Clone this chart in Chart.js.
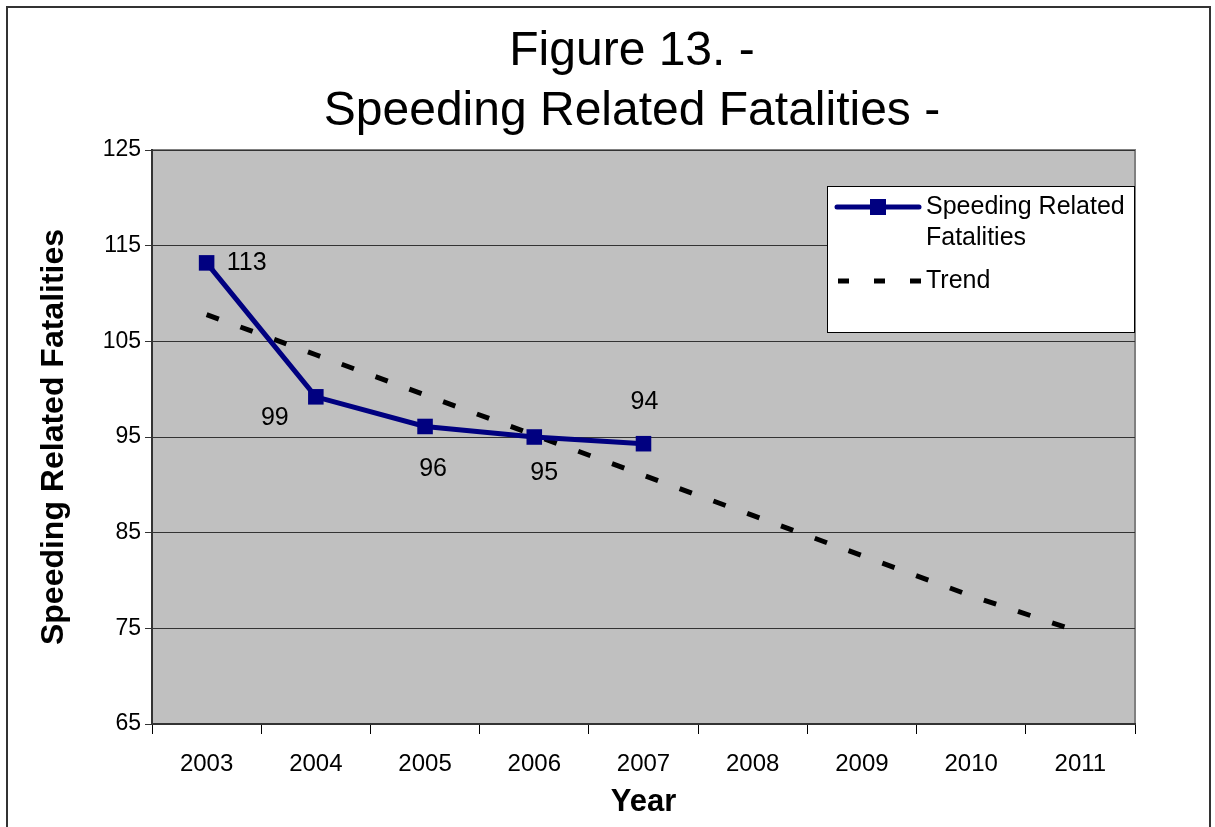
<!DOCTYPE html>
<html>
<head>
<meta charset="utf-8">
<script src="https://cdn.jsdelivr.net/npm/chart.js@4.4.1/dist/chart.umd.min.js"></script>
<style>
  html, body { margin: 0; padding: 0; background: #fff; }
  #wrap { position: relative; width: 1215px; height: 827px; }
  #frame { position: absolute; left: 6px; top: 6px; width: 1205px; height: 840px; border: 2px solid #333; box-sizing: border-box; pointer-events: none; }
  canvas { position: absolute; left: 0; top: 0; }
</style>
</head>
<body>
<div id="wrap">
  <canvas id="c" width="1215" height="827"></canvas>
  <div id="frame"></div>
</div>
<script>
const years = ['2003', '2004', '2005', '2006', '2007', '2008', '2009', '2010', '2011'];
const fatalities = [113.2, 99.2, 96.1, 95.0, 94.3, null, null, null, null];
const fatalityLabels = ['113', '99', '96', '95', '94'];
const trend = [107.8, 103.6, 99.4, 95.2, 91.0, 86.8, 82.6, 78.4, 74.6];
const yTicks = [65, 75, 85, 95, 105, 115, 125];
const titleLines = ['Figure 13. -', 'Speeding Related Fatalities -'];

const FONT = '"Liberation Sans", Arial, sans-serif';

const bgPlugin = {
  id: 'plotBg',
  beforeDraw(chart) {
    const { ctx, chartArea: a } = chart;
    ctx.save();
    ctx.fillStyle = '#C0C0C0';
    ctx.fillRect(a.left, a.top, a.right - a.left, a.bottom - a.top);
    ctx.strokeStyle = '#808080';
    ctx.lineWidth = 2;
    ctx.beginPath();
    ctx.moveTo(a.left, a.top);
    ctx.lineTo(a.right, a.top);
    ctx.lineTo(a.right, a.bottom);
    ctx.stroke();
    ctx.restore();
  }
};

const titlePlugin = {
  id: 'centerTitle',
  afterDraw(chart) {
    const { ctx } = chart;
    ctx.save();
    ctx.fillStyle = '#000';
    ctx.font = '48px ' + FONT;
    ctx.textAlign = 'center';
    ctx.textBaseline = 'middle';
    ctx.fillText(titleLines[0], 632, 52);
    ctx.fillText(titleLines[1], 632, 112);
    ctx.restore();
  }
};

// label offsets relative to each point (px)
const labelOffsets = [[40, 0], [-41, 21], [8, 43], [10, 36], [1, -42]];
const labelPlugin = {
  id: 'dataLabels',
  afterDatasetsDraw(chart) {
    const { ctx } = chart;
    const meta = chart.getDatasetMeta(0);
    ctx.save();
    ctx.font = '25px ' + FONT;
    ctx.fillStyle = '#000';
    ctx.textAlign = 'center';
    ctx.textBaseline = 'middle';
    fatalityLabels.forEach((t, i) => {
      const p = meta.data[i];
      ctx.fillText(t, p.x + labelOffsets[i][0], p.y + labelOffsets[i][1]);
    });
    ctx.restore();
  }
};

const legendPlugin = {
  id: 'boxLegend',
  afterDraw(chart) {
    const { ctx, chartArea: a } = chart;
    const ds = chart.data.datasets;
    const x0 = a.right - 308, y0 = a.top + 36, w = 308, h = 147;
    ctx.save();
    ctx.fillStyle = '#fff';
    ctx.fillRect(x0, y0, w, h);
    ctx.strokeStyle = '#000';
    ctx.lineWidth = 1;
    ctx.strokeRect(x0 + 0.5, y0 + 0.5, w - 1, h - 1);
    const ly1 = y0 + 21;
    ctx.strokeStyle = ds[0].borderColor;
    ctx.lineWidth = 5;
    ctx.lineCap = 'round';
    ctx.beginPath();
    ctx.moveTo(x0 + 10, ly1);
    ctx.lineTo(x0 + 92, ly1);
    ctx.stroke();
    ctx.fillStyle = ds[0].borderColor;
    ctx.fillRect(x0 + 43, ly1 - 8, 16, 16);
    const ly2 = y0 + 95;
    ctx.strokeStyle = '#000';
    ctx.lineCap = 'butt';
    ctx.lineWidth = 5;
    ctx.setLineDash([11, 25]);
    ctx.beginPath();
    ctx.moveTo(x0 + 11, ly2);
    ctx.lineTo(x0 + 94, ly2);
    ctx.stroke();
    ctx.setLineDash([]);
    ctx.fillStyle = '#000';
    ctx.font = '25px ' + FONT;
    ctx.textAlign = 'left';
    ctx.textBaseline = 'middle';
    ctx.fillText('Speeding Related', x0 + 99, ly1);
    ctx.fillText('Fatalities', x0 + 99, ly1 + 31);
    ctx.fillText(ds[1].label, x0 + 99, ly2);
    ctx.restore();
  }
};

new Chart(document.getElementById('c'), {
  type: 'line',
  data: {
    labels: years,
    datasets: [
      {
        label: 'Speeding Related Fatalities',
        data: fatalities,
        borderColor: '#000080',
        backgroundColor: '#000080',
        borderWidth: 5,
        pointStyle: 'rect',
        pointRadius: 11,
        pointHoverRadius: 11,
        pointBorderWidth: 0,
        tension: 0,
        spanGaps: false,
        order: 1
      },
      {
        label: 'Trend',
        data: trend,
        borderColor: '#000',
        borderWidth: 5,
        borderDash: [13, 23],
        borderCapStyle: 'butt',
        pointRadius: 0,
        pointHoverRadius: 0,
        tension: 0,
        order: 2
      }
    ]
  },
  options: {
    responsive: false,
    animation: false,
    events: [],
    layout: { padding: { left: 0, right: 80, top: 150, bottom: 0 } },
    plugins: {
      legend: { display: false },
      tooltip: { enabled: false },
      title: { display: false }
    },
    scales: {
      x: {
        type: 'category',
        offset: true,
        grid: { offset: true, drawOnChartArea: false, drawTicks: true, tickLength: 10, color: '#000', lineWidth: 1 },
        border: { display: true, color: '#333', width: 2 },
        ticks: { color: '#000', font: { family: FONT, size: 24 }, padding: 16, maxRotation: 0, autoSkip: false },
        title: { display: true, text: 'Year', color: '#000', font: { family: FONT, size: 31, weight: 'bold' }, padding: { top: 4, bottom: 6 } },
        afterFit(s) { s.height = 103; }
      },
      y: {
        min: 65,
        max: 125,
        afterBuildTicks(s) { s.ticks = yTicks.map(v => ({ value: v })); },
        grid: { color: '#333', lineWidth: 1, drawTicks: true, tickLength: 7 },
        border: { display: true, color: '#333', width: 2 },
        ticks: { color: '#000', font: { family: FONT, size: 23 }, padding: 4 },
        title: { display: true, text: 'Speeding Related Fatalities', color: '#000', font: { family: FONT, size: 32, weight: 'bold' }, padding: { top: 35, bottom: 0 } },
        afterFit(s) { s.width = 152; }
      }
    }
  },
  plugins: [bgPlugin, labelPlugin, legendPlugin, titlePlugin]
});
</script>
</body>
</html>
